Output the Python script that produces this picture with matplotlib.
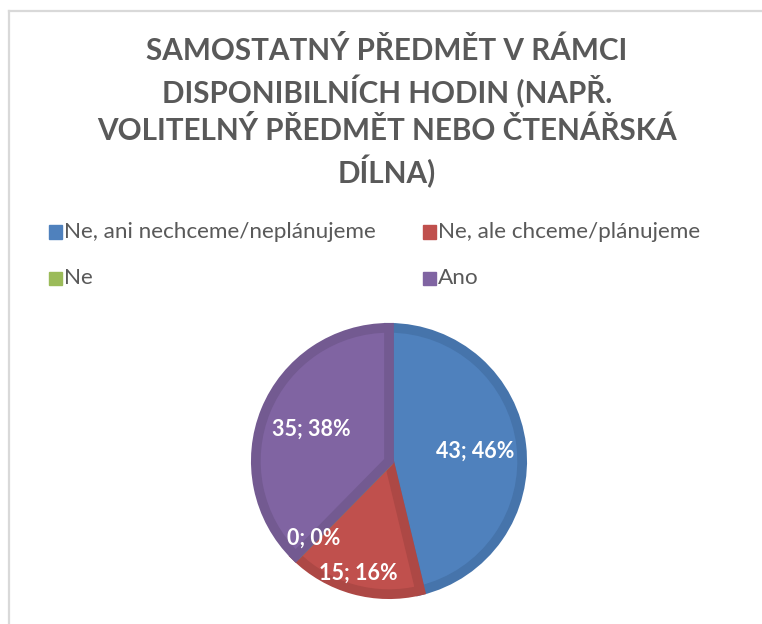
import numpy as np
import matplotlib.pyplot as plt
from matplotlib.lines import Line2D
from matplotlib.patches import Rectangle

# chart data
categories = ['Ne, ani nechceme/neplánujeme', 'Ne, ale chceme/plánujeme', 'Ne', 'Ano']
counts = [43, 15, 0, 35]
title = 'SAMOSTATNÝ PŘEDMĚT V RÁMCI\nDISPONIBILNÍCH HODIN (NAPŘ.\nVOLITELNÝ PŘEDMĚT NEBO ČTENÁŘSKÁ\nDÍLNA)'

# excel-ish colours (fill, border)
fills = ['#4F81BD', '#C0504D', '#9BBB59', '#8064A2']
edges = ['#4674AB', '#AD4845', '#8BA850', '#735A91']
label_dist = [0.63, 0.84, 0.78, 0.61]

plt.rcParams['font.family'] = ['Lato', 'DejaVu Sans']
W, H = 762, 624
fig = plt.figure(figsize=(W / 100, H / 100), dpi=100)

# light gray chart frame (open to the right / bottom)
fig.add_artist(Line2D([9 / W, 9 / W], [0, 1 - 11 / H], color='#D9D9D9', lw=1.6))
fig.add_artist(Line2D([9 / W, 1], [1 - 11 / H, 1 - 11 / H], color='#D9D9D9', lw=1.6))

fig.text(387 / W, 1 - 112 / H, title, ha='center', va='center', fontsize=21.3,
         fontweight='bold', color='#595959', linespacing=1.33)

# legend, laid out by hand in two columns
leg_x = [49, 423]
leg_y = [232, 278]
for i, name in enumerate(categories):
    x = leg_x[i % 2]
    y = leg_y[i // 2]
    fig.add_artist(Rectangle((x / W, 1 - (y + 6.5) / H), 13 / W, 13 / H,
                             transform=fig.transFigure, color=fills[i]))
    fig.text((x + 15) / W, 1 - y / H, name, ha='left', va='center',
             fontsize=16.2, color='#595959')

# pie
cx, cy, r = 389, 461, 138
ax = fig.add_axes([(cx - r) / W, 1 - (cy + r) / H, 2 * r / W, 2 * r / H])

wedges, _ = ax.pie(counts, colors=fills, startangle=90, counterclock=False,
                   radius=0.965, wedgeprops=dict(linewidth=7))
for w, ec in zip(wedges, edges):
    w.set_edgecolor(ec)
    w.set_joinstyle('miter')
ax.set_xlim(-1, 1)
ax.set_ylim(-1, 1)
ax.set_aspect('equal')
ax.axis('off')

total = sum(counts)
ang = 90.0
for i, v in enumerate(counts):
    span = v / total * 360
    mid = np.radians(ang - span / 2)
    ang -= span
    d = label_dist[i]
    ax.text(d * np.cos(mid), d * np.sin(mid), f'{v}; {round(v / total * 100)}%',
            ha='center', va='center', fontsize=15.5, fontweight='bold', color='white')

fig.savefig('out.png', dpi=100)
